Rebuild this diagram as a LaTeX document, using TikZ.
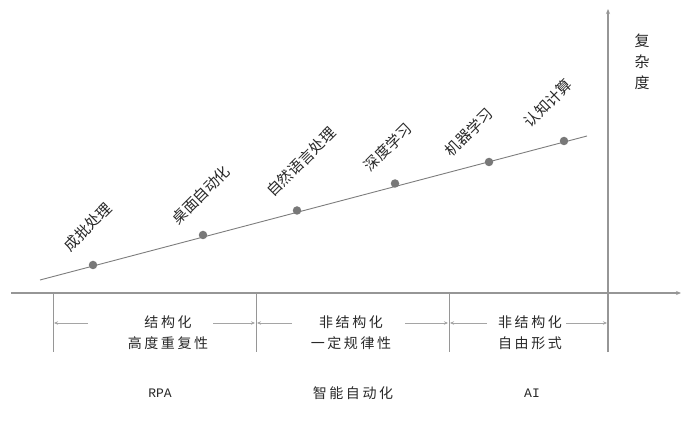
\documentclass[tikz,border=0pt]{standalone}
\usepackage{fontspec}
\newfontfamily\cjk{Noto Sans CJK SC}
\newfontfamily\cjkw[LetterSpace=18]{Noto Sans CJK SC}
\setmonofont{Liberation Mono}
\usetikzlibrary{arrows.meta}
\definecolor{axisgray}{RGB}{150,150,150}
\definecolor{linegray}{RGB}{125,125,125}
\definecolor{dotgray}{RGB}{120,120,120}
\definecolor{dimgray}{RGB}{165,165,165}
\definecolor{txt}{RGB}{40,40,40}
\tikzset{
  axis/.style={draw=axisgray, line width=1.3pt, -{Stealth[length=5pt,width=4pt]}},
  divider/.style={draw=axisgray, line width=1pt},
  trend/.style={draw=linegray, line width=0.9pt},
  dot/.style={circle, fill=dotgray, inner sep=0pt, minimum size=8.5pt},
  tech/.style={rotate=45, inner sep=0pt, text=txt, font=\cjk\fontsize{15}{18}\selectfont},
  dimarrow/.style={draw=dimgray, line width=0.8pt, -{Stealth[length=4pt,width=3.5pt]}},
  desc/.style={align=center, inner sep=0pt, text=txt, font=\cjkw\fontsize{14}{21}\selectfont},
  cat/.style={inner sep=0pt, text=txt, font=\cjkw\fontsize{14}{17}\selectfont},
  catmono/.style={inner sep=0pt, text=txt, font=\ttfamily\fontsize{13}{16}\selectfont},
  ylab/.style={align=center, inner sep=0pt, text=txt, font=\cjk\fontsize{15}{21}\selectfont}
}
\begin{document}
\begin{tikzpicture}[x=1pt,y=-1pt]
\useasboundingbox (0,0) rectangle (694,422);
% axes
\coordinate (xs) at (11,293);
\coordinate (xe) at (681,293);
\coordinate (ys) at (608,352);
\coordinate (ye) at (608,9);
\draw[axis] (xs) -- (xe);
\draw[axis] (ys) -- (ye);
\node[ylab] (ylabel) at (642,62) {复\\杂\\度};
% dividers
\coordinate (d1t) at (53,293); \coordinate (d1b) at (53,352);
\coordinate (d2t) at (256,293); \coordinate (d2b) at (256,352);
\coordinate (d3t) at (449,293); \coordinate (d3b) at (449,352);
\draw[divider] (d1t) -- (d1b);
\draw[divider] (d2t) -- (d2b);
\draw[divider] (d3t) -- (d3b);
% trend line and dots
\coordinate (ts) at (40,280);
\coordinate (te) at (587,136);
\draw[trend] (ts) -- (te);
\node[dot] (p1) at (93,265) {};
\node[dot] (p2) at (203,235) {};
\node[dot] (p3) at (297,210.5) {};
\node[dot] (p4) at (395,183.5) {};
\node[dot] (p5) at (489,162) {};
\node[dot] (p6) at (564,141) {};
% technology labels
\node[tech] (l1) at (88,227) {成批处理};
\node[tech] (l2) at (201,195) {桌面自动化};
\node[tech] (l3) at (301,162) {自然语言处理};
\node[tech] (l4) at (388,147) {深度学习};
\node[tech] (l5) at (469,132) {机器学习};
\node[tech] (l6) at (548,103) {认知计算};
% dimension arrows
\coordinate (a1l) at (88,323); \coordinate (a1le) at (54,323);
\coordinate (a1r) at (213,323); \coordinate (a1re) at (255,323);
\coordinate (a2l) at (292,323); \coordinate (a2le) at (257,323);
\coordinate (a2r) at (405,323); \coordinate (a2re) at (448,323);
\coordinate (a3l) at (487,323); \coordinate (a3le) at (450,323);
\coordinate (a3r) at (566,323); \coordinate (a3re) at (607,323);
\draw[dimarrow] (a1l) -- (a1le);
\draw[dimarrow] (a1r) -- (a1re);
\draw[dimarrow] (a2l) -- (a2le);
\draw[dimarrow] (a2r) -- (a2re);
\draw[dimarrow] (a3l) -- (a3le);
\draw[dimarrow] (a3r) -- (a3re);
\node[desc] (s1) at (168,333) {结构化\\高度重复性};
\node[desc] (s2) at (351,333) {非结构化\\一定规律性};
\node[desc] (s3) at (530,333) {非结构化\\自由形式};
% categories
\node[catmono] (c1) at (160,393) {RPA};
\node[cat] (c2) at (353,393) {智能自动化};
\node[catmono] (c3) at (532,393) {AI};
\end{tikzpicture}
\end{document}
